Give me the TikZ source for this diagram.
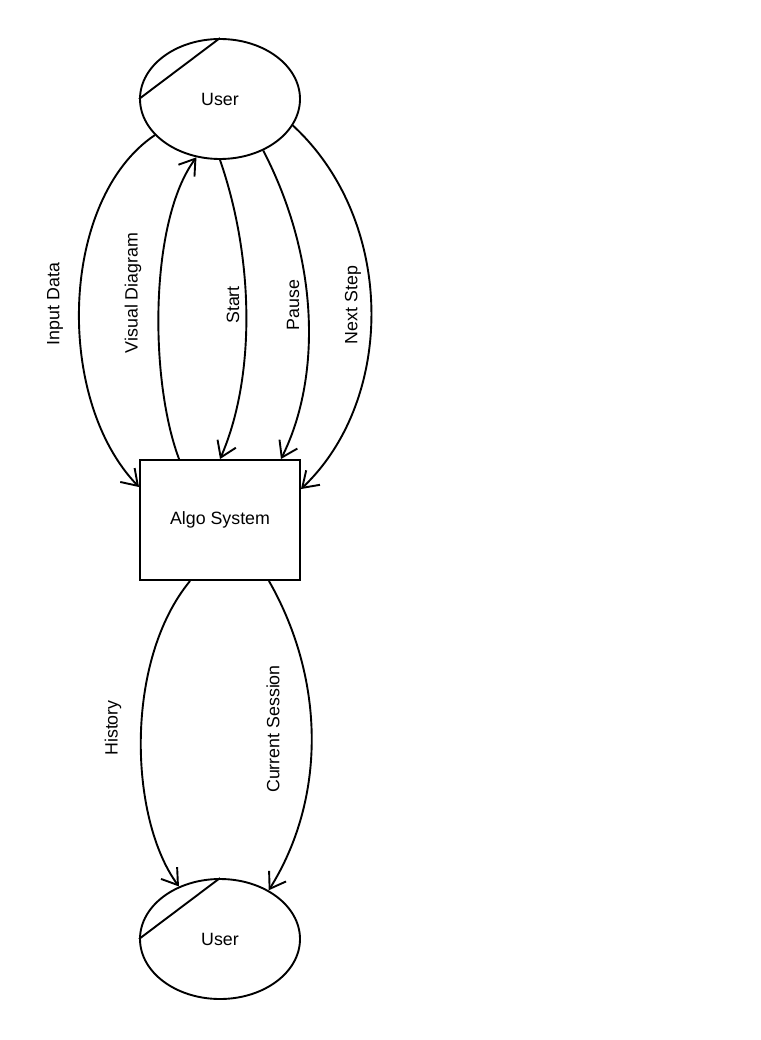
\documentclass[tikz,border=0pt]{standalone}
\usepackage{fontspec}
\setmainfont{Liberation Sans}
\usetikzlibrary{shapes.geometric,arrows.meta}
\begin{document}
\begin{tikzpicture}[x=1pt,y=-1pt,
  every node/.style={font=\fontsize{17.8}{21}\selectfont},
  ent/.style={draw,ellipse,line width=1.9pt,minimum width=160pt,minimum height=120pt,inner sep=0pt},
  proc/.style={draw,rectangle,line width=1.9pt,minimum width=160pt,minimum height=120pt,inner sep=0pt},
  flow/.style={line width=1.9pt,-{Straight Barb[length=15pt,width=20pt,line width=1.9pt]}},
  lbl/.style={rotate=90,inner sep=0pt}]
\useasboundingbox (0,0) rectangle (760,1040);
\node[ent] (u1) at (220,99) {User};
\node[ent] (u2) at (220,939) {User};
\node[proc] (sys) at (220,520) {Algo System};
\draw[line width=1.9pt] (u1.west) -- (u1.north);
\draw[line width=1.9pt] (u2.west) -- (u2.north);
% Input Data
\draw[flow] (u1.209) .. controls +(-95,64) and +(-85,-88) .. ([yshift=-28pt]sys.north west);
% Visual Diagram
\draw[flow] ([xshift=40pt]sys.north west) .. controls +(-30,-80) and +(-47,63) .. (u1.248);
% Start
\draw[flow] (u1.south) .. controls +(35,101) and +(35,-80) .. (sys.north);
% Pause
\draw[flow] (u1.310) .. controls +(57,110) and +(40,-80) .. ([xshift=-20pt]sys.north east);
% Next Step
\draw[flow] (u1.340) .. controls +(103,95) and +(95,-90) .. ([yshift=-30pt]sys.north east);
% History
\draw[flow] ([xshift=51pt]sys.south west) .. controls +(-66,80) and +(-50,-68) .. (u2.128);
% Current Session
\draw[flow] ([xshift=-32pt]sys.south east) .. controls +(57,100) and +(57,-91) .. (u2.45);
\node[lbl] (l1) at (55,304) {Input Data};
\node[lbl] (l2) at (133,293) {Visual Diagram};
\node[lbl] (l3) at (233,305) {Start};
\node[lbl] (l4) at (293,305) {Pause};
\node[lbl] (l5) at (353,305) {Next Step};
\node[lbl] (l6) at (113,728) {History};
\node[lbl] (l7) at (273,729) {Current Session};
\end{tikzpicture}
\end{document}
